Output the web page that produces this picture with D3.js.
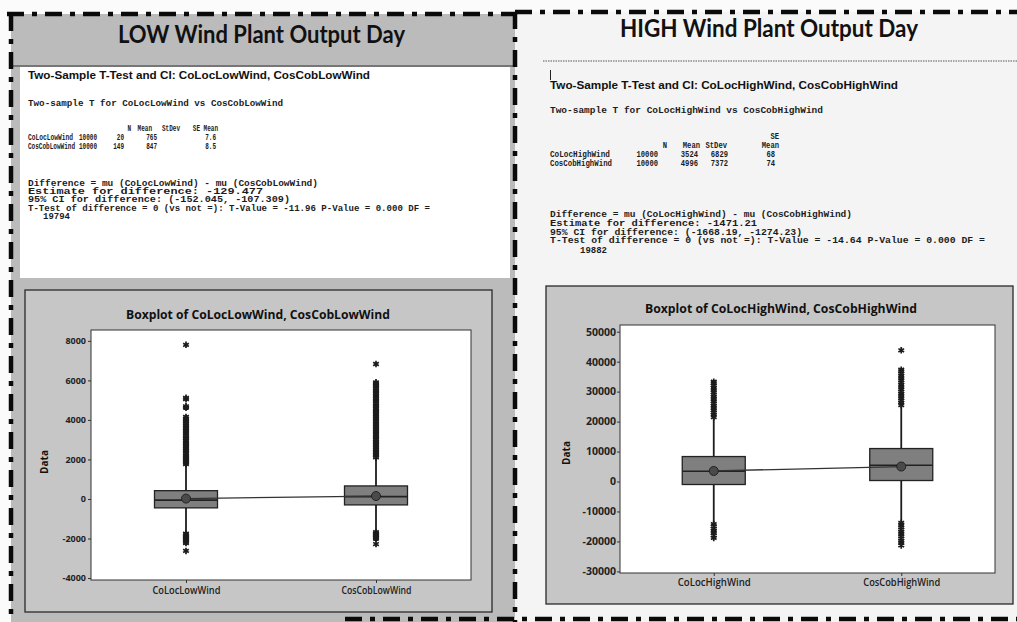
<!DOCTYPE html>
<html><head><meta charset="utf-8">
<script src="https://cdn.jsdelivr.net/npm/d3@7"></script>
<style>body{margin:0;background:#fff;} svg{display:block}</style>
</head><body><svg id="c" width="1017" height="622"></svg>
<script>
// ---------------- DATA ----------------
const panelTitles = ["LOW Wind Plant Output Day", "HIGH Wind Plant Output Day"];

const lowHeading = "Two-Sample T-Test and CI: CoLocLowWind, CosCobLowWind";
const lowIntro = "Two-sample T for CoLocLowWind vs CosCobLowWind";
const lowTableHeader = ["N", "Mean", "StDev", "SE Mean"];
const lowTableRows = [
  ["CoLocLowWind", "10000", "20", "765", "7.6"],
  ["CosCobLowWind", "10000", "149", "847", "8.5"]
];
const lowResults = [
  "Difference = mu (CoLocLowWind) - mu (CosCobLowWind)",
  "Estimate for difference:  -129.477",
  "95% CI for difference:  (-152.045, -107.309)",
  "T-Test of difference = 0 (vs not =): T-Value = -11.96  P-Value = 0.000  DF ="
];
const lowDF = "19794";

const highHeading = "Two-Sample T-Test and CI: CoLocHighWind, CosCobHighWind";
const highIntro = "Two-sample T for CoLocHighWind vs CosCobHighWind";
const highTableHeaderTop = "SE";
const highTableHeader = ["N", "Mean", "StDev", "Mean"];
const highTableRows = [
  ["CoLocHighWind", "10000", "3524", "6829", "68"],
  ["CosCobHighWind", "10000", "4996", "7372", "74"]
];
const highResults = [
  "Difference = mu (CoLocHighWind) - mu (CosCobHighWind)",
  "Estimate for difference:  -1471.21",
  "95% CI for difference:  (-1668.19, -1274.23)",
  "T-Test of difference = 0 (vs not =): T-Value = -14.64  P-Value = 0.000  DF ="
];
const highDF = "19882";

// Boxplot: LOW wind
const lowBoxTitle = "Boxplot of CoLocLowWind, CosCobLowWind";
const lowCategories = ["CoLocLowWind", "CosCobLowWind"];
const lowTicks = [-4000, -2000, 0, 2000, 4000, 6000, 8000];
const lowYDomain = [-4100, 8550];
const lowQ1 = [-450, -300];
const lowMedian = [-60, 120];
const lowQ3 = [420, 660];
const lowMean = [20, 149];
const lowWhiskerLow = [-1700, -1620];
const lowWhiskerHigh = [1720, 2060];
const lowOutliersHigh = [
  [1760,1830,1900,1980,2050,2130,2210,2300,2380,2460,2550,2630,2710,2800,2880,2960,3050,3130,3220,3300,3390,3470,3560,3640,3730,3820,3900,3990,4070,4150,4620,4690,5050,5120,7800],
  [2100,2180,2260,2340,2420,2500,2590,2670,2750,2840,2920,3000,3090,3170,3250,3340,3420,3500,3590,3670,3750,3840,3920,4000,4090,4170,4250,4340,4420,4500,4590,4670,4750,4840,4920,5000,5090,5170,5250,5340,5420,5500,5590,5670,5750,5830,5900,6830]
];
const lowOutliersLow = [
  [-1760,-1830,-1900,-1960,-2030,-2100,-2170,-2230,-2630],
  [-1680,-1740,-1800,-1870,-1940,-2000,-2280]
];

// Boxplot: HIGH wind
const highBoxTitle = "Boxplot of CoLocHighWind, CosCobHighWind";
const highCategories = ["CoLocHighWind", "CosCobHighWind"];
const highTicks = [-30000, -20000, -10000, 0, 10000, 20000, 30000, 40000, 50000];
const highYDomain = [-30530, 52230];
const highQ1 = [-1000, 330];
const highMedian = [3430, 5430];
const highQ3 = [8330, 11000];
const highMean = [3524, 4996];
const highWhiskerLow = [-13700, -13200];
const highWhiskerHigh = [21000, 25000];
const highOutliersHigh = [
  [21500,22300,23000,23800,24500,25300,26000,26800,27500,28300,29000,29800,30500,31300,32000,32800,33300],
  [25500,26300,27000,27800,28500,29300,30000,30800,31500,32300,33000,33800,34500,35300,36000,36800,37300,43800]
];
const highOutliersLow = [
  [-14200,-15000,-15700,-16500,-17200,-18000,-18800],
  [-13800,-14500,-15300,-16000,-16800,-17500,-18300,-19000,-19800,-20500,-21300]
];

// ---------------- DRAW ----------------
const svg = d3.select("#c");
const INK = "#1c1c1c";
const MONO = "'Liberation Mono', 'DejaVu Sans Mono', monospace";
const SANS = "'Open Sans', 'Noto Sans', sans-serif";

svg.append("rect").attr("width", 1017).attr("height", 622).attr("fill", "#fbfbfb");
svg.append("rect").attr("x", 515).attr("y", 12).attr("width", 502).attr("height", 610).attr("fill", "#f4f4f4");
svg.append("rect").attr("x", 11).attr("y", 14).attr("width", 504).attr("height", 608).attr("fill", "#bbbbbb");

const titleLayout = [{cx: 261.5, y: 43, w: 287}, {cx: 769, y: 36.5, w: 298}];
svg.selectAll("text.ptitle").data(panelTitles).join("text")
  .attr("class", "ptitle")
  .attr("x", (d, i) => titleLayout[i].cx).attr("y", (d, i) => titleLayout[i].y)
  .attr("text-anchor", "middle")
  .attr("textLength", (d, i) => titleLayout[i].w).attr("lengthAdjust", "spacingAndGlyphs")
  .style("font-family", "Lato, 'Open Sans', sans-serif").style("font-weight", 700)
  .style("font-size", "24px").attr("fill", "#111").text(d => d);

svg.append("line").attr("x1", 11).attr("x2", 513).attr("y1", 66).attr("y2", 66)
  .attr("stroke", "#333").attr("stroke-width", 1.2);
svg.append("line").attr("x1", 543).attr("x2", 1017).attr("y1", 61).attr("y2", 61)
  .attr("stroke", "#555").attr("stroke-width", 1).attr("stroke-dasharray", "1.5 1");

svg.append("rect").attr("x", 20).attr("y", 67).attr("width", 490).attr("height", 211).attr("fill", "#ffffff");
svg.append("line").attr("x1", 550.5).attr("x2", 550.5).attr("y1", 70).attr("y2", 80)
  .attr("stroke", "#222").attr("stroke-width", 1);

// place a text at (x, y) and squeeze it horizontally to width w via a transform
function placeFit(g, txt, x, y, w, anchor, styler) {
  const t = g.append("text").attr("x", 0).attr("y", 0).attr("text-anchor", anchor || "start")
    .call(styler).text(txt);
  const nat = t.node().getComputedTextLength() || w;
  t.attr("transform", `translate(${x},${y}) scale(${w / nat},1)`);
  return t;
}

function drawTestText(cfg) {
  const g = svg.append("g");
  g.append("text").attr("x", cfg.x).attr("y", cfg.headingY)
    .attr("textLength", cfg.headingW).attr("lengthAdjust", "spacingAndGlyphs")
    .style("font-family", "'Liberation Sans', Arial, sans-serif").style("font-weight", 700)
    .style("font-size", "11px").attr("fill", "#111").text(cfg.heading);
  const mono = sel => sel.style("font-family", MONO).style("font-size", "8.2px")
    .style("font-weight", 700).attr("fill", INK);
  const cell = (sel, w) => sel.attr("textLength", w).attr("lengthAdjust", "spacingAndGlyphs");
  g.append("text").attr("x", cfg.x).attr("y", cfg.introY)
    .call(cell, cfg.introW).call(mono).text(cfg.intro);
  if (cfg.headerTop) {
    placeFit(g, cfg.headerTop, cfg.headerX[3], cfg.headerTopY,
      cfg.headerTop.length * cfg.cellChar, "end", mono);
  }
  cfg.header.forEach((h, i) => {
    placeFit(g, h, cfg.headerX[i], cfg.headerY, h.length * cfg.cellChar, "end", mono);
  });
  cfg.rows.forEach((row, r) => {
    placeFit(g, row[0], cfg.x, cfg.rowY[r], cfg.rowNameW[r], "start", mono);
    row.slice(1).forEach((v, i) => {
      placeFit(g, v, cfg.valX[i], cfg.rowY[r], v.length * cfg.cellChar, "end", mono);
    });
  });
  g.selectAll("text.res").data(cfg.results).join("text").attr("class", "res")
    .attr("x", cfg.x).attr("y", (d, i) => cfg.resY[i])
    .attr("textLength", (d, i) => cfg.resW[i]).attr("lengthAdjust", "spacingAndGlyphs")
    .call(mono).text(d => d);
  g.append("text").attr("x", cfg.dfX).attr("y", cfg.dfY).call(mono)
    .call(cell, cfg.dfW).text(cfg.df);
}

drawTestText({
  x: 28, heading: lowHeading, headingY: 79, headingW: 342,
  intro: lowIntro, introY: 106, introW: 255, cellChar: 3.6,
  header: lowTableHeader, headerY: 131, headerX: [131, 152, 180, 218],
  rows: lowTableRows, rowY: [140, 149], rowNameW: [45, 47], valX: [97, 124, 157, 216],
  results: lowResults, resY: [186, 194, 202, 210.5], resW: [290, 235, 262, 402],
  df: lowDF, dfX: 43, dfY: 219, dfW: 27
});
drawTestText({
  x: 550, heading: highHeading, headingY: 89, headingW: 348,
  intro: highIntro, introY: 113, introW: 273, cellChar: 4.3,
  headerTop: highTableHeaderTop, headerTopY: 139,
  header: highTableHeader, headerY: 148, headerX: [667, 700, 727, 779],
  rows: highTableRows, rowY: [157, 165.5], rowNameW: [60, 62], valX: [658, 698, 728, 775],
  results: highResults, resY: [217, 226, 234.5, 243], resW: [302, 207, 252, 435],
  df: highDF, dfX: 580, dfY: 252.5, dfW: 27
});

function drawBoxplot(o) {
  const g = svg.append("g");
  g.append("rect").attr("x", o.frame[0]).attr("y", o.frame[1])
    .attr("width", o.frame[2]).attr("height", o.frame[3])
    .attr("fill", "#c6c6c6").attr("stroke", "#2a2a2a").attr("stroke-width", 1.3);
  const px = o.plot[0], py = o.plot[1], pw = o.plot[2], ph = o.plot[3];
  g.append("rect").attr("x", px).attr("y", py).attr("width", pw).attr("height", ph)
    .attr("fill", "#ffffff").attr("stroke", "#333").attr("stroke-width", 1);
  const y = d3.scaleLinear().domain(o.yDomain).range([py + ph, py]);
  const x = d3.scalePoint().domain(o.categories).range([px, px + pw]).padding(0.5);

  g.append("text").attr("x", o.titleX).attr("y", o.titleY).attr("text-anchor", "middle")
    .attr("textLength", o.titleW).attr("lengthAdjust", "spacingAndGlyphs")
    .style("font-family", SANS).style("font-weight", 700).style("font-size", "11.5px")
    .attr("fill", "#111").text(o.title);

  const ya = g.append("g").attr("transform", `translate(${px},0)`)
    .call(d3.axisLeft(y).tickValues(o.ticks).tickSize(3).tickPadding(o.tickPad).tickFormat(d => String(d)));
  ya.select(".domain").remove();
  ya.selectAll("text").style("font-family", SANS).style("font-weight", 700)
    .style("font-size", o.tickFont).attr("fill", "#222");
  ya.selectAll("line").attr("stroke", "#333");

  const xa = g.append("g").attr("transform", `translate(0,${py + ph})`)
    .call(d3.axisBottom(x).tickSize(3).tickPadding(o.catPad));
  xa.select(".domain").remove();
  xa.selectAll("line").attr("stroke", "#333");
  xa.selectAll("text").style("font-family", SANS).style("font-weight", 600)
    .style("font-size", "10px").attr("fill", "#222")
    .attr("textLength", (d, i) => o.catW[i]).attr("lengthAdjust", "spacingAndGlyphs");

  g.append("text").attr("transform", `translate(${o.dataX},${o.dataY}) rotate(-90)`)
    .attr("text-anchor", "middle").style("font-family", SANS).style("font-weight", 700)
    .style("font-size", "10px").attr("fill", "#111").text("Data");

  const bw = 63;
  const idx = o.categories.map((c, i) => i);
  g.selectAll("line.wh").data(idx).join("line").attr("class", "wh")
    .attr("x1", i => x(o.categories[i])).attr("x2", i => x(o.categories[i]))
    .attr("y1", i => y(o.whiskerHigh[i])).attr("y2", i => y(o.q3[i]))
    .attr("stroke", INK).attr("stroke-width", 1.8);
  g.selectAll("line.wl").data(idx).join("line").attr("class", "wl")
    .attr("x1", i => x(o.categories[i])).attr("x2", i => x(o.categories[i]))
    .attr("y1", i => y(o.q1[i])).attr("y2", i => y(o.whiskerLow[i]))
    .attr("stroke", INK).attr("stroke-width", 1.8);
  g.selectAll("rect.box").data(idx).join("rect").attr("class", "box")
    .attr("x", i => x(o.categories[i]) - bw / 2).attr("width", bw)
    .attr("y", i => y(o.q3[i])).attr("height", i => y(o.q1[i]) - y(o.q3[i]))
    .attr("fill", "#7f7f7f").attr("stroke", "#222").attr("stroke-width", 1.3);
  g.selectAll("line.med").data(idx).join("line").attr("class", "med")
    .attr("x1", i => x(o.categories[i]) - bw / 2).attr("x2", i => x(o.categories[i]) + bw / 2)
    .attr("y1", i => y(o.median[i])).attr("y2", i => y(o.median[i]))
    .attr("stroke", "#222").attr("stroke-width", 1.6);
  g.append("path")
    .attr("d", d3.line().x(i => x(o.categories[i])).y(i => y(o.mean[i]))(idx))
    .attr("fill", "none").attr("stroke", "#333").attr("stroke-width", 1.3);
  g.selectAll("circle.mean").data(idx).join("circle").attr("class", "mean")
    .attr("cx", i => x(o.categories[i])).attr("cy", i => y(o.mean[i])).attr("r", 4.5)
    .attr("fill", "#4a4a4a").attr("stroke", "#222").attr("stroke-width", 1);
  const star = d3.symbol(d3.symbolAsterisk, 30);
  idx.forEach(i => {
    const pts = o.outHigh[i].concat(o.outLow[i]);
    g.selectAll("path.o" + i).data(pts).join("path").attr("class", "o" + i)
      .attr("transform", v => `translate(${x(o.categories[i])},${y(v)})`)
      .attr("d", star).attr("fill", "none").attr("stroke", INK).attr("stroke-width", 1.7);
  });
}

drawBoxplot({
  frame: [25, 290, 467, 322], plot: [91, 330, 380, 250],
  yDomain: lowYDomain, ticks: lowTicks, categories: lowCategories,
  title: lowBoxTitle, titleX: 258, titleY: 319, titleW: 264,
  tickPad: 2, tickFont: "9px", catPad: 4, catW: [68, 70],
  dataX: 48, dataY: 462,
  q1: lowQ1, median: lowMedian, q3: lowQ3, mean: lowMean,
  whiskerLow: lowWhiskerLow, whiskerHigh: lowWhiskerHigh,
  outHigh: lowOutliersHigh, outLow: lowOutliersLow
});
drawBoxplot({
  frame: [546, 286, 467, 318], plot: [620, 325, 375, 248],
  yDomain: highYDomain, ticks: highTicks, categories: highCategories,
  title: highBoxTitle, titleX: 781, titleY: 313, titleW: 272,
  tickPad: 1, tickFont: "10.5px", catPad: 3, catW: [73, 77],
  dataX: 570, dataY: 453,
  q1: highQ1, median: highMedian, q3: highQ3, mean: highMean,
  whiskerLow: highWhiskerLow, whiskerHigh: highWhiskerHigh,
  outHigh: highOutliersHigh, outLow: highOutliersLow
});

const border = [
  [[7, 14], [515, 14]],
  [[515, 12], [1017, 12]],
  [[11, 14], [11, 622]],
  [[515, 12], [515, 622]],
  [[345, 619], [1017, 619]]
];
svg.selectAll("path.border").data(border).join("path").attr("class", "border")
  .attr("d", d => d3.line()(d))
  .attr("fill", "none").attr("stroke", "#0a0a0a").attr("stroke-width", 4.5)
  .attr("stroke-dasharray", "17 8 5 8");
</script></body></html>
